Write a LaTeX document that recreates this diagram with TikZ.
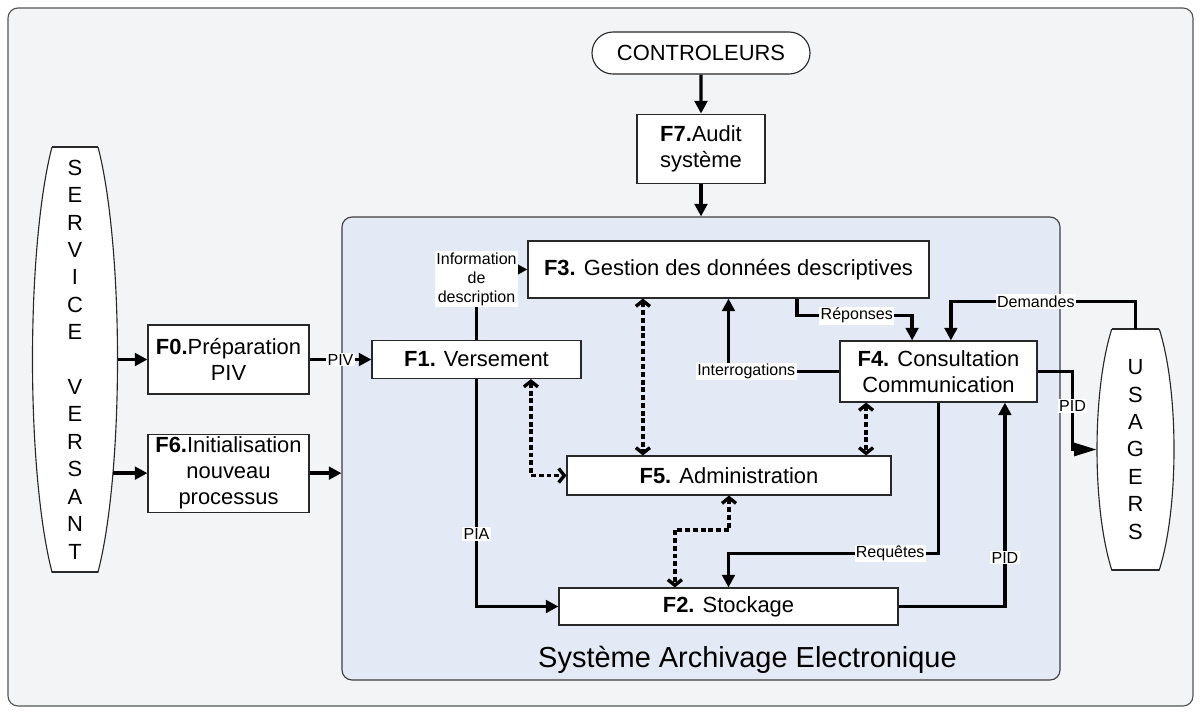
\documentclass[tikz,border=0pt]{standalone}
\usepackage{fontspec}
\setmainfont{Liberation Sans}
\usetikzlibrary{positioning, calc, arrows.meta, shapes.misc}

\definecolor{frameFill}{RGB}{243,244,246}
\definecolor{saeFill}{RGB}{228,234,245}
\definecolor{boxLine}{RGB}{40,40,40}

\newcommand{\mainSize}{\fontsize{15.6}{18.5}\selectfont}
\newcommand{\labelSize}{\fontsize{11.4}{13.5}\selectfont}
\newcommand{\letterSize}{\fontsize{15.6}{19.5}\selectfont}
\newcommand{\titleSize}{\fontsize{20.6}{24}\selectfont}

\begin{document}
\begin{tikzpicture}[
  x=0.25mm, y=-0.25mm,
  >={Triangle[length=9pt, width=9pt]},
  funcNode/.style   ={rectangle, draw=boxLine, line width=0.8pt, fill=white, inner sep=0pt, text centered, align=center, font=\mainSize},
  ctrlNode/.style   ={rounded rectangle, draw=boxLine, line width=0.8pt, fill=white, inner sep=0pt, minimum width=54.5mm, minimum height=10.5mm, font=\mainSize},
  actorNode/.style  ={rectangle, inner sep=0pt, align=center, font=\letterSize},
  actorShape/.style ={draw=boxLine, line width=0.8pt, fill=white},
  arrow/.style      ={->, line width=2.4pt},
  dashedArrow/.style={{Straight Barb[length=4pt, width=10pt]}-{Straight Barb[length=4pt, width=10pt]}, line width=2.4pt, dash pattern=on 3.5pt off 2pt},
  flowLabel/.style  ={fill=white, inner sep=1pt, font=\labelSize, align=center}
]
\useasboundingbox (0,0) rectangle (1201,711);

% ================== FRAME ==================
\draw[draw=boxLine!80, line width=0.8pt, fill=frameFill, rounded corners=2.5mm] (8,8) rectangle (1193,706);

% ================== SYSTEM BOX ==================
\node[rectangle, draw=boxLine!90, line width=0.8pt, fill=saeFill, rounded corners=2.5mm,
      minimum width=179.5mm, minimum height=115.75mm] (SAE) at (701,448.5) {};
\node[font=\titleSize, anchor=base] (SAEtitle) at (747.5,667) {Système Archivage Electronique};

% ================== ACTORS ==================
\coordinate (svC) at (75,359.5);
\begin{scope}
  \clip (0,147) rectangle (200,572);
  \draw[actorShape] (svC) ellipse [x radius=42.5, y radius=252.7];
\end{scope}
\draw[boxLine, line width=0.8pt] ($(svC)+(-23,-212.5)$) -- ++(46,0);
\draw[boxLine, line width=0.8pt] ($(svC)+(-23,212.5)$) -- ++(46,0);
\node[actorNode, minimum width=21.25mm, minimum height=106.25mm] (SV) at (svC)
  {S\\E\\R\\V\\I\\C\\E\\\mbox{}\\V\\E\\R\\S\\A\\N\\T};

\coordinate (usaC) at (1135.5,449.5);
\begin{scope}
  \clip (1050,329) rectangle (1200,570);
  \draw[actorShape] (usaC) ellipse [x radius=38.5, y radius=153];
\end{scope}
\draw[boxLine, line width=0.8pt] ($(usaC)+(-23.7,-120.5)$) -- ++(47.4,0);
\draw[boxLine, line width=0.8pt] ($(usaC)+(-23.7,120.5)$) -- ++(47.4,0);
\node[actorNode, minimum width=19.25mm, minimum height=60.25mm] (USA) at (usaC)
  {U\\S\\A\\G\\E\\R\\S};

\node[ctrlNode] (CTRL) at (701,53) {CONTROLEURS};

% ================== FUNCTIONS ==================
\node[funcNode, minimum width=32mm, minimum height=17.25mm, below=9.75mm of CTRL] (F7) {\textbf{F7.}Audit\\système};

\node[funcNode, minimum width=40.25mm, minimum height=17.25mm] (F0) at (228.5,359.5) {\textbf{F0.}Préparation\\PIV};
\node[funcNode, minimum width=40.25mm, minimum height=19.5mm, below=9.75mm of F0] (F6) {\textbf{F6.}Initialisation\\nouveau\\processus};

\node[funcNode, minimum width=52.25mm, minimum height=9.5mm] (F1) at (476.5,359.5) {\textbf{F1.} Versement};
\node[funcNode, minimum width=100.25mm, minimum height=14.25mm] (F3) at (728.5,269.5) {\textbf{F3.} Gestion des données descriptives};
\node[funcNode, minimum width=49.25mm, minimum height=15.25mm] (F4) at (938.5,371.5) {\textbf{F4.} Consultation\\Communication};
\node[funcNode, minimum width=81mm, minimum height=9.75mm] (F5) at (729,475.5) {\textbf{F5.} Administration};
\node[funcNode, minimum width=84.75mm, minimum height=9.25mm] (F2) at (728.5,606.5) {\textbf{F2.} Stockage};

% ================== FLOWS ==================
\draw[arrow] (CTRL) -- (F7);
\draw[arrow] (F7) -- (SAE.north);

\draw[arrow] (SV.east |- F0.west) -- (F0.west);
\draw[arrow] ([xshift=-1.1mm]SV.east |- F6.west) -- (F6.west);
\draw[arrow] (F0.east) -- node[flowLabel] {PIV} (F1.west);
\draw[arrow] (F6.east) -- (F6.east -| SAE.west);

\draw[arrow] (F1.north) |- node[flowLabel, pos=0.5, yshift=-2.4mm] {Information\\de\\description} (F3.west);
\draw[arrow] (F1.south) |- node[flowLabel, pos=0.34] {PIA} (F2.west);

\draw[arrow] (F4.west) -| node[flowLabel, pos=0.42] {Interrogations} (F3.south);
\draw[arrow] ([xshift=17.1mm]F3.south) -- ++(0,17) -| node[flowLabel, pos=0.26] {Réponses} ([xshift=-6.6mm]F4.north);
\draw[arrow] (USA.north) -- ++(0,-27) -| node[flowLabel, pos=0.27] {Demandes} ([xshift=3.1mm]F4.north);
\draw[-{Triangle[length=16pt, width=9pt]}, line width=2.4pt] (F4.east) -- ++(35,0) |- node[flowLabel, pos=0.22] {PID} (USA.west);

\draw[arrow] (F4.south) -- ++(0,151) -| node[flowLabel, pos=0.115] {Requêtes} (F2.north);
\draw[arrow] (F2.east) -| node[flowLabel, pos=0.62] {PID} ([xshift=16.6mm]F4.south);

% admin links
\draw[dashedArrow] ([xshift=13.6mm]F1.south) |- (F5.west);
\draw[dashedArrow] ([xshift=-21.4mm]F3.south) -- ([xshift=-21.4mm]F3.south |- F5.north);
\draw[dashedArrow] ([xshift=-18.1mm]F4.south) -- ([xshift=-18.1mm]F4.south |- F5.north);
\draw[dashedArrow] (F5.south) -- ++(0,34.5) -| ([xshift=-13.4mm]F2.north);

\end{tikzpicture}
\end{document}
